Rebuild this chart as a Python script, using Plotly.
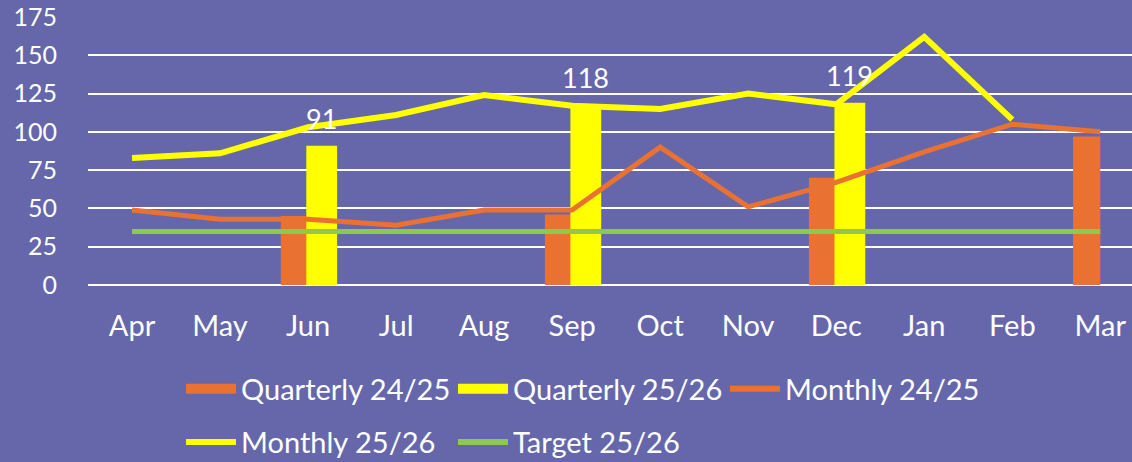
import plotly.graph_objects as go

months = ["Apr", "May", "Jun", "Jul", "Aug", "Sep", "Oct", "Nov", "Dec", "Jan", "Feb", "Mar"]
quarterly_2425 = [None, None, 45, None, None, 46, None, None, 70, None, None, 97]
quarterly_2526 = [None, None, 91, None, None, 118, None, None, 119, None, None, None]
monthly_2425 = [49, 43, 43, 39, 49, 49, 90, 51, 67, 87, 105, 100]
monthly_2526 = [83, 86, 103, 111, 124, 117, 115, 125, 118, 162, 108, None]
target_2526 = [35] * 12

BG = "#6667AB"
ORANGE = "#E97132"
YELLOW = "#FFFF00"
GREEN = "#8DC94E"
FONT = "Lato"

# bar geometry (category units) and px per category, used for label shift
Q1_OFF, Q1_W = -0.31, 0.31
Q2_OFF, Q2_W = -0.02, 0.35
PX_PER_CAT = 88

fig = go.Figure()

fig.add_trace(go.Bar(x=months, y=quarterly_2425, name="Quarterly 24/25",
                     marker=dict(color=ORANGE, line=dict(width=0)),
                     offset=Q1_OFF, width=Q1_W, showlegend=False))
fig.add_trace(go.Bar(x=months, y=quarterly_2526, name="Quarterly 25/26",
                     marker=dict(color=YELLOW, line=dict(width=0)),
                     offset=Q2_OFF, width=Q2_W, showlegend=False))

for name, vals, col, lw in [("Monthly 24/25", monthly_2425, ORANGE, 5),
                            ("Monthly 25/26", monthly_2526, YELLOW, 6),
                            ("Target 25/26", target_2526, GREEN, 5)]:
    fig.add_trace(go.Scatter(x=months, y=vals, name=name, mode="lines",
                             line=dict(color=col, width=lw), showlegend=False))

# data labels above the 25/26 quarterly bars
for m, v in zip(months, quarterly_2526):
    if v is None:
        continue
    fig.add_annotation(x=m, y=v, text=str(v), showarrow=False,
                       xshift=(Q2_OFF + Q2_W / 2) * PX_PER_CAT, yshift=27,
                       yanchor="middle",
                       font=dict(color="white", size=27, family=FONT))

# legend: one legend box per entry, laid out in two rows
legend_items = [
    ("Quarterly 24/25", ORANGE, 22, 0.0891, -0.388),
    ("Quarterly 25/26", YELLOW, 22, 0.3496, -0.388),
    ("Monthly 24/25", ORANGE, 6, 0.6102, -0.388),
    ("Monthly 25/26", YELLOW, 6, 0.0891, -0.586),
    ("Target 25/26", GREEN, 6, 0.3496, -0.586),
]
legend_layout = {}
for i, (name, col, w, lx, ly) in enumerate(legend_items):
    key = "legend" if i == 0 else f"legend{i + 1}"
    fig.add_trace(go.Scatter(x=[None], y=[None], name=name, mode="lines",
                             line=dict(color=col, width=w), legend=key))
    legend_layout[key] = dict(x=lx, y=ly, xanchor="left", yanchor="middle",
                              orientation="h", itemwidth=50,
                              font=dict(color="white", size=29, family=FONT),
                              bgcolor="rgba(0,0,0,0)",
                              itemclick=False, itemdoubleclick=False)

fig.update_layout(
    width=1132, height=462,
    margin=dict(l=88, r=0, t=17, b=177, autoexpand=False),
    paper_bgcolor=BG, plot_bgcolor=BG,
    font=dict(family=FONT, color="white", size=25),
    barmode="overlay",
    **legend_layout,
)
fig.update_xaxes(range=[-0.5, 11.36], showgrid=False, zeroline=False,
                 showline=False, ticks="", ticklabelstandoff=21,
                 tickfont=dict(color="white", size=29, family=FONT))
fig.update_yaxes(range=[0, 175], dtick=25, tick0=0, showgrid=True,
                 gridcolor="white", gridwidth=1.5, zeroline=True,
                 zerolinecolor="white", zerolinewidth=1.5,
                 ticks="", ticklabelstandoff=30,
                 tickfont=dict(color="white", size=25, family=FONT))

fig.write_html("out.html", config={"displayModeBar": False},
               post_script="document.body.style.margin='0';")
